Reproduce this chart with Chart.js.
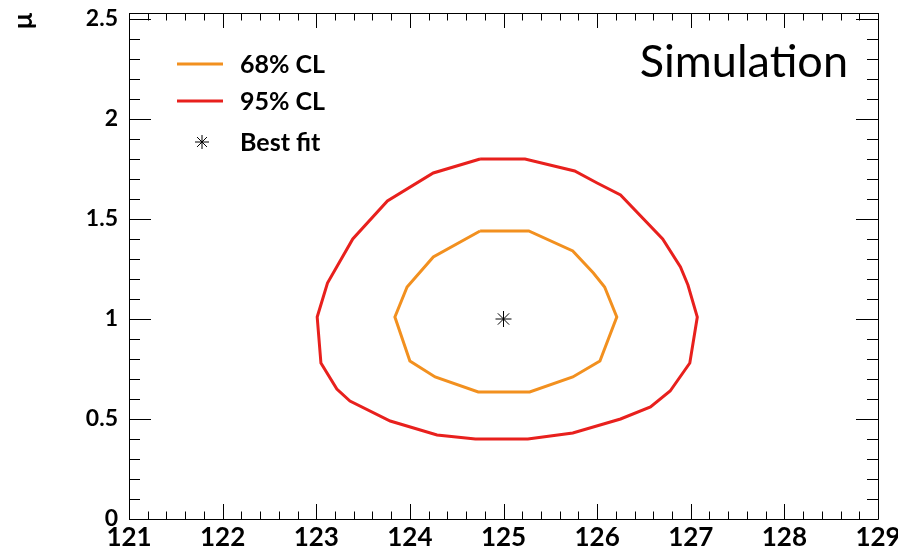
<!DOCTYPE html>
<html>
<head>
<meta charset="utf-8">
<script src="https://cdn.jsdelivr.net/npm/chart.js@4/dist/chart.umd.min.js"></script>
<style>
  html, body { margin: 0; padding: 0; background: #ffffff; }
  #wrap { width: 898px; height: 552px; position: relative; }
</style>
</head>
<body>
<div id="wrap"><canvas id="c"></canvas></div>
<script>
// Higgs mass (GeV) vs. signal strength: 68% and 95% CL contours and best fit.
const mH68 = [124.75, 125.27, 125.74, 125.96, 126.08, 126.21, 126.03, 125.74, 125.28, 124.73, 124.27, 124.00, 123.84, 123.97, 124.25, 124.75];
const mu68 = [1.44, 1.44, 1.34, 1.23, 1.16, 1.01, 0.79, 0.71, 0.635, 0.635, 0.71, 0.79, 1.01, 1.16, 1.31, 1.44];

const mH95 = [124.75, 125.23, 125.76, 126.00, 126.25, 126.70, 126.89, 126.97, 127.07, 126.99, 126.78, 126.57, 126.25, 125.74, 125.26, 124.70, 124.29, 123.79, 123.36, 123.22, 123.05, 123.01, 123.12, 123.39, 123.76, 124.25, 124.75];
const mu95 = [1.80, 1.80, 1.74, 1.68, 1.62, 1.40, 1.26, 1.17, 1.01, 0.78, 0.64, 0.56, 0.50, 0.43, 0.40, 0.40, 0.42, 0.49, 0.59, 0.65, 0.78, 1.01, 1.18, 1.40, 1.59, 1.73, 1.80];

const bestMH = [125.0];
const bestMu = [1.0];

const seriesNames = ['68% CL', '95% CL', 'Best fit'];
const xTickValues = [121, 122, 123, 124, 125, 126, 127, 128, 129];
const yTickValues = [0, 0.5, 1, 1.5, 2, 2.5];
const yTickLabels = ['0', '0.5', '1', '1.5', '2', '2.5'];

const ORANGE = '#f2901f';
const RED = '#e8201d';

const toPoints = (xs, ys) => xs.map((x, i) => ({ x: x, y: ys[i] }));

// Frame with inward major/minor ticks on all four sides
const frameTicks = {
  id: 'frameTicks',
  afterDatasetsDraw(chart) {
    const { ctx, chartArea: a, scales: { x, y } } = chart;
    ctx.save();
    ctx.strokeStyle = '#000';
    ctx.lineWidth = 1;
    ctx.beginPath();
    ctx.rect(Math.round(a.left) + 0.5, Math.round(a.top) + 0.5,
             Math.round(a.right - a.left), Math.round(a.bottom - a.top));
    ctx.stroke();
    ctx.beginPath();
    // x: major every 1, minor every 0.2
    for (let k = 0; k <= 40; k++) {
      const v = x.min + k * 0.2;
      if (v > x.max + 1e-9) break;
      const px = Math.round(x.getPixelForValue(v)) + 0.5;
      const len = (k % 5 === 0) ? 15 : 7.5;
      ctx.moveTo(px, a.bottom); ctx.lineTo(px, a.bottom - len);
      ctx.moveTo(px, a.top); ctx.lineTo(px, a.top + len);
    }
    // y: major every 0.5, minor every 0.1
    for (let k = 0; k <= 25; k++) {
      const v = k * 0.1;
      const py = Math.round(y.getPixelForValue(v)) + 0.5;
      const len = (k % 5 === 0) ? 22 : 11;
      ctx.moveTo(a.left, py); ctx.lineTo(a.left + len, py);
      ctx.moveTo(a.right, py); ctx.lineTo(a.right - len, py);
    }
    ctx.stroke();
    ctx.restore();
  }
};

// Legend block and "Simulation" tag
const annotations = {
  id: 'annotations',
  afterDraw(chart) {
    const ctx = chart.ctx;
    const ds = chart.data.datasets;
    ctx.save();
    const rows = [64, 101, 142];
    ctx.font = 'bold 25px Lato';
    ctx.fillStyle = '#000';
    ctx.textAlign = 'left';
    ctx.textBaseline = 'alphabetic';
    for (let i = 0; i < 3; i++) {
      const yy = rows[i];
      if (i < 2) {
        ctx.strokeStyle = ds[i].borderColor;
        ctx.lineWidth = 3;
        ctx.beginPath();
        ctx.moveTo(177, yy); ctx.lineTo(223, yy);
        ctx.stroke();
      } else {
        ctx.strokeStyle = '#000';
        ctx.lineWidth = 1;
        const r = 7;
        ctx.beginPath();
        ctx.moveTo(202 - r, yy); ctx.lineTo(202 + r, yy);
        ctx.moveTo(202, yy - r); ctx.lineTo(202, yy + r);
        const d = r * Math.SQRT1_2;
        ctx.moveTo(202 - d, yy - d); ctx.lineTo(202 + d, yy + d);
        ctx.moveTo(202 - d, yy + d); ctx.lineTo(202 + d, yy - d);
        ctx.stroke();
      }
      ctx.fillText(ds[i].label, 240, yy + 9);
    }
    ctx.font = '45px Lato';
    ctx.textAlign = 'right';
    ctx.fillText('Simulation', 848, 77);
    ctx.restore();
  }
};

new Chart(document.getElementById('c'), {
  type: 'scatter',
  data: {
    datasets: [
      {
        label: seriesNames[0],
        data: toPoints(mH68, mu68),
        showLine: true,
        borderColor: ORANGE,
        backgroundColor: ORANGE,
        borderWidth: 3,
        pointRadius: 0,
        tension: 0
      },
      {
        label: seriesNames[1],
        data: toPoints(mH95, mu95),
        showLine: true,
        borderColor: RED,
        backgroundColor: RED,
        borderWidth: 3,
        pointRadius: 0,
        tension: 0
      },
      {
        label: seriesNames[2],
        data: toPoints(bestMH, bestMu),
        showLine: false,
        pointStyle: 'star',
        pointRadius: 8,
        borderColor: '#000',
        backgroundColor: '#000',
        pointBorderWidth: 1
      }
    ]
  },
  options: {
    responsive: true,
    maintainAspectRatio: false,
    animation: false,
    layout: { padding: { left: 0, top: 13, right: 20, bottom: 0 } },
    plugins: {
      legend: { display: false },
      tooltip: { enabled: false }
    },
    scales: {
      x: {
        type: 'linear',
        min: 121,
        max: 129,
        grid: { display: false, drawTicks: false },
        border: { display: false },
        afterBuildTicks(s) { s.ticks = xTickValues.map(v => ({ value: v })); },
        afterFit(s) { s.height = 33; s.paddingLeft = 0; s.paddingRight = 0; },
        ticks: {
          padding: 3,
          color: '#000',
          font: { family: 'Lato', weight: 'bold', size: 26 },
          maxRotation: 0,
          autoSkip: false,
          callback: (v) => String(v)
        }
      },
      y: {
        type: 'linear',
        min: 0,
        max: 2.53,
        grid: { display: false, drawTicks: false },
        border: { display: false },
        afterBuildTicks(s) { s.ticks = yTickValues.map(v => ({ value: v })); },
        afterFit(s) { s.width = 129; s.paddingTop = 0; s.paddingBottom = 0; },
        ticks: {
          padding: 11,
          color: '#000',
          font: { family: 'Lato', weight: 'bold', size: 23 },
          autoSkip: false,
          callback: (v) => yTickLabels[yTickValues.indexOf(v)] ?? String(v)
        },
        title: {
          display: true,
          text: 'μ',
          align: 'end',
          color: '#000',
          padding: 7,
          font: { family: 'Lato', weight: 'bold', size: 27 }
        }
      }
    }
  },
  plugins: [frameTicks, annotations]
});
</script>
</body>
</html>
